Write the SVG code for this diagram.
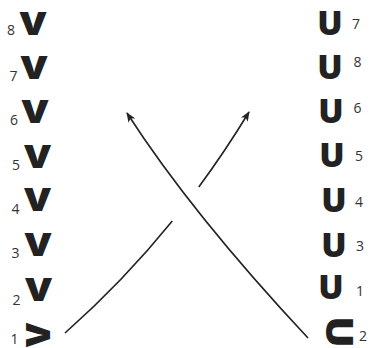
<svg xmlns="http://www.w3.org/2000/svg" width="370" height="348" viewBox="0 0 370 348">
<defs>
<style>
.g{font-family:"Open Sans","Liberation Sans",sans-serif;font-weight:800;font-size:32px;fill:#222;text-anchor:middle}
.n{font-family:"Open Sans","Liberation Sans",sans-serif;font-size:14px;fill:#333;text-anchor:middle}
.c{fill:none;stroke:#222;stroke-width:1.6}
</style>
<marker id="ah" viewBox="0 0 10 8" refX="9" refY="4" markerWidth="10" markerHeight="8" markerUnits="userSpaceOnUse" orient="auto">
<path d="M0,0 L10,4 L0,8 L2.5,4 z" fill="#222"/>
</marker>
</defs>
<rect width="370" height="348" fill="#fff"/>
<g id="L8"><text class="n" x="11" y="35">8</text><text class="g" transform="translate(33,35) scale(1.22,1)">V</text></g>
<g id="L7"><text class="n" x="13.5" y="81">7</text><text class="g" transform="translate(34,79) scale(1.22,1)">V</text></g>
<g id="L6"><text class="n" x="14" y="125">6</text><text class="g" transform="translate(35,123) scale(1.22,1)">V</text></g>
<g id="L5"><text class="n" x="16" y="170">5</text><text class="g" transform="translate(37.5,168) scale(1.22,1)">V</text></g>
<g id="L4"><text class="n" x="15.5" y="214">4</text><text class="g" transform="translate(37.5,211) scale(1.22,1)">V</text></g>
<g id="L3"><text class="n" x="15.5" y="258">3</text><text class="g" transform="translate(38,256) scale(1.22,1)">V</text></g>
<g id="L2"><text class="n" x="16.5" y="305">2</text><text class="g" transform="translate(38.5,301) scale(1.22,1)">V</text></g>
<g id="L1"><text class="n" x="14.5" y="344">1</text><text class="g" transform="translate(50,335) rotate(-90) scale(1.1,1.05)">V</text></g>
<g id="R7"><text class="g" transform="translate(330,35) scale(1.05,1.05)">U</text><text class="n" x="356" y="29">7</text></g>
<g id="R8"><text class="g" transform="translate(330,79) scale(1.05,1.05)">U</text><text class="n" x="357.5" y="67">8</text></g>
<g id="R6"><text class="g" transform="translate(331,123) scale(1.05,1.05)">U</text><text class="n" x="357.5" y="113">6</text></g>
<g id="R5"><text class="g" transform="translate(332,167) scale(1.05,1.05)">U</text><text class="n" x="359" y="161">5</text></g>
<g id="R4"><text class="g" transform="translate(334,212) scale(1.05,1.05)">U</text><text class="n" x="359" y="207">4</text></g>
<g id="R3"><text class="g" transform="translate(334,257) scale(1.05,1.05)">U</text><text class="n" x="360" y="251">3</text></g>
<g id="R1"><text class="g" transform="translate(331,299) scale(1.05,1.05)">U</text><text class="n" x="360" y="296">1</text></g>
<g id="R2"><text class="g" transform="translate(326,332) rotate(90) scale(1.3,1.15)">U</text><text class="n" x="363" y="341">2</text></g>
<g id="connectors">
<path class="c" d="M308,338 Q192,214 127,113" marker-end="url(#ah)"/>
<path class="c" d="M65,333 Q123.3,281.4 172.3,221"/>
<path class="c" d="M198.8,187 Q225.4,150.9 249,112" marker-end="url(#ah)"/>
</g>
</svg>
